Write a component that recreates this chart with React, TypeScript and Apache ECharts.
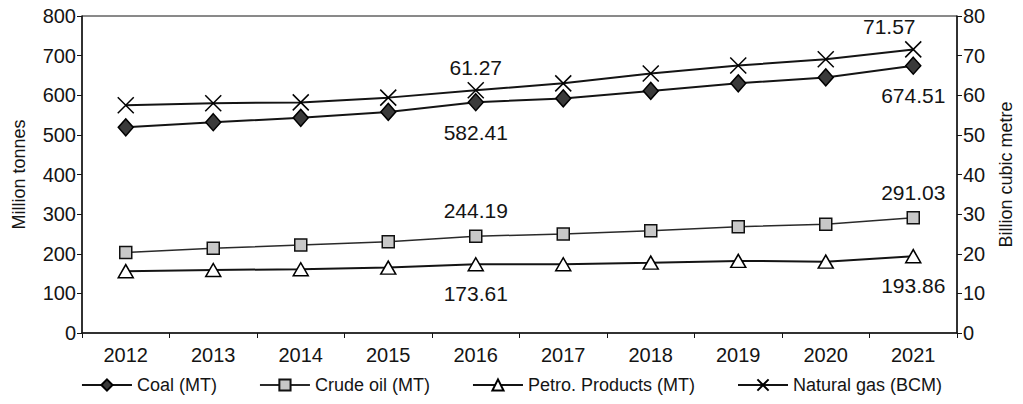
import React, { useEffect, useRef } from "react";
import * as echarts from "echarts";

const years = ["2012", "2013", "2014", "2015", "2016", "2017", "2018", "2019", "2020", "2021"];
const coal = [519, 532, 543, 558, 582.41, 592, 611, 630, 645, 674.51];
const crudeOil = [203, 214, 222, 230.5, 244.19, 250, 258, 268, 274.5, 291.03];
const petroProducts = [156, 159, 161, 165, 173.61, 173.5, 177.5, 182, 180, 193.86];
const naturalGas = [57.5, 58.0, 58.2, 59.4, 61.27, 63.0, 65.5, 67.5, 69.1, 71.57];
const labeledIdx = [4, 9];

const FONT = "'Liberation Sans', Arial, sans-serif";
const INK = "#141414";

function withLabels(values: number[], pos: "top" | "bottom", dist: number, offsets: Record<number, number[]> = {}) {
  return values.map((v, i) =>
    labeledIdx.includes(i)
      ? {
          value: v,
          label: {
            show: true,
            position: pos,
            distance: dist,
            offset: offsets[i] || [0, 0],
            formatter: () => v.toFixed(2),
            fontFamily: FONT,
            fontSize: 21,
            color: INK,
          },
        }
      : v
  );
}

export default function App() {
  const ref = useRef<HTMLDivElement>(null);
  useEffect(() => {
    const chart = echarts.init(ref.current!, null, { renderer: "svg" });
    chart.setOption({
      animation: false,
      backgroundColor: "#fff",
      textStyle: { fontFamily: FONT, color: INK },
      grid: { left: 82, right: 65, top: 16, bottom: 71, show: true, borderColor: INK, borderWidth: 1 },
      legend: {
        bottom: 5,
        left: "center",
        itemWidth: 50,
        itemHeight: 14,
        itemGap: 42,
        textStyle: { fontFamily: FONT, fontSize: 18, color: INK },
        data: ["Coal (MT)", "Crude oil (MT)", "Petro. Products (MT)", "Natural gas (BCM)"],
      },
      xAxis: {
        type: "category",
        data: years,
        boundaryGap: true,
        axisLine: { lineStyle: { color: INK, width: 1.5 } },
        axisTick: { show: true, length: 5, lineStyle: { color: INK } },
        axisLabel: { fontFamily: FONT, fontSize: 20, color: INK, margin: 12 },
      },
      yAxis: [
        {
          type: "value",
          min: 0,
          max: 800,
          interval: 100,
          name: "Million tonnes",
          nameLocation: "middle",
          nameRotate: 90,
          nameGap: 54,
          nameTextStyle: { fontFamily: FONT, fontSize: 18, color: INK },
          axisLine: { show: true, lineStyle: { color: INK, width: 1.5 } },
          axisTick: { show: true, length: 5, lineStyle: { color: INK } },
          axisLabel: { fontFamily: FONT, fontSize: 20, color: INK, margin: 6 },
          splitLine: { show: false },
        },
        {
          type: "value",
          min: 0,
          max: 80,
          interval: 10,
          position: "right",
          name: "Billion cubic metre",
          nameLocation: "middle",
          nameRotate: 90,
          nameGap: 40,
          nameTextStyle: { fontFamily: FONT, fontSize: 18, color: INK },
          axisLine: { show: true, lineStyle: { color: INK, width: 1.5 } },
          axisTick: { show: true, length: 5, lineStyle: { color: INK } },
          axisLabel: { fontFamily: FONT, fontSize: 20, color: INK, margin: 6 },
          splitLine: { show: false },
        },
      ],
      series: [
        {
          name: "Coal (MT)",
          type: "line",
          yAxisIndex: 0,
          data: withLabels(coal, "bottom", 10),
          symbol: "diamond",
          symbolSize: [15, 17],
          lineStyle: { color: INK, width: 2 },
          itemStyle: { color: "#3a3a3a", borderColor: "#000", borderWidth: 1.5 },
        },
        {
          name: "Crude oil (MT)",
          type: "line",
          yAxisIndex: 0,
          data: withLabels(crudeOil, "top", 8),
          symbol: "rect",
          symbolSize: 12,
          lineStyle: { color: "#2a2a2a", width: 1.5 },
          itemStyle: { color: "#c8c8c8", borderColor: "#111", borderWidth: 1.5 },
        },
        {
          name: "Petro. Products (MT)",
          type: "line",
          yAxisIndex: 0,
          data: withLabels(petroProducts, "bottom", 12),
          symbol: "triangle",
          symbolSize: [15, 13],
          lineStyle: { color: INK, width: 2 },
          itemStyle: { color: "#fff", borderColor: "#000", borderWidth: 1.5 },
        },
        {
          name: "Natural gas (BCM)",
          type: "line",
          yAxisIndex: 1,
          data: withLabels(naturalGas, "top", 2, { 9: [-24, 0] }),
          symbol: "path://M0,0L20,20M20,0L0,20",
          symbolSize: 16,
          lineStyle: { color: INK, width: 2 },
          itemStyle: { color: "none", borderColor: "#000", borderWidth: 1.5 },
        },
      ],
    });
    return () => chart.dispose();
  }, []);
  return <div ref={ref} style={{ width: 1023, height: 404, position: "absolute", left: 0, top: 0 }} />;
}
